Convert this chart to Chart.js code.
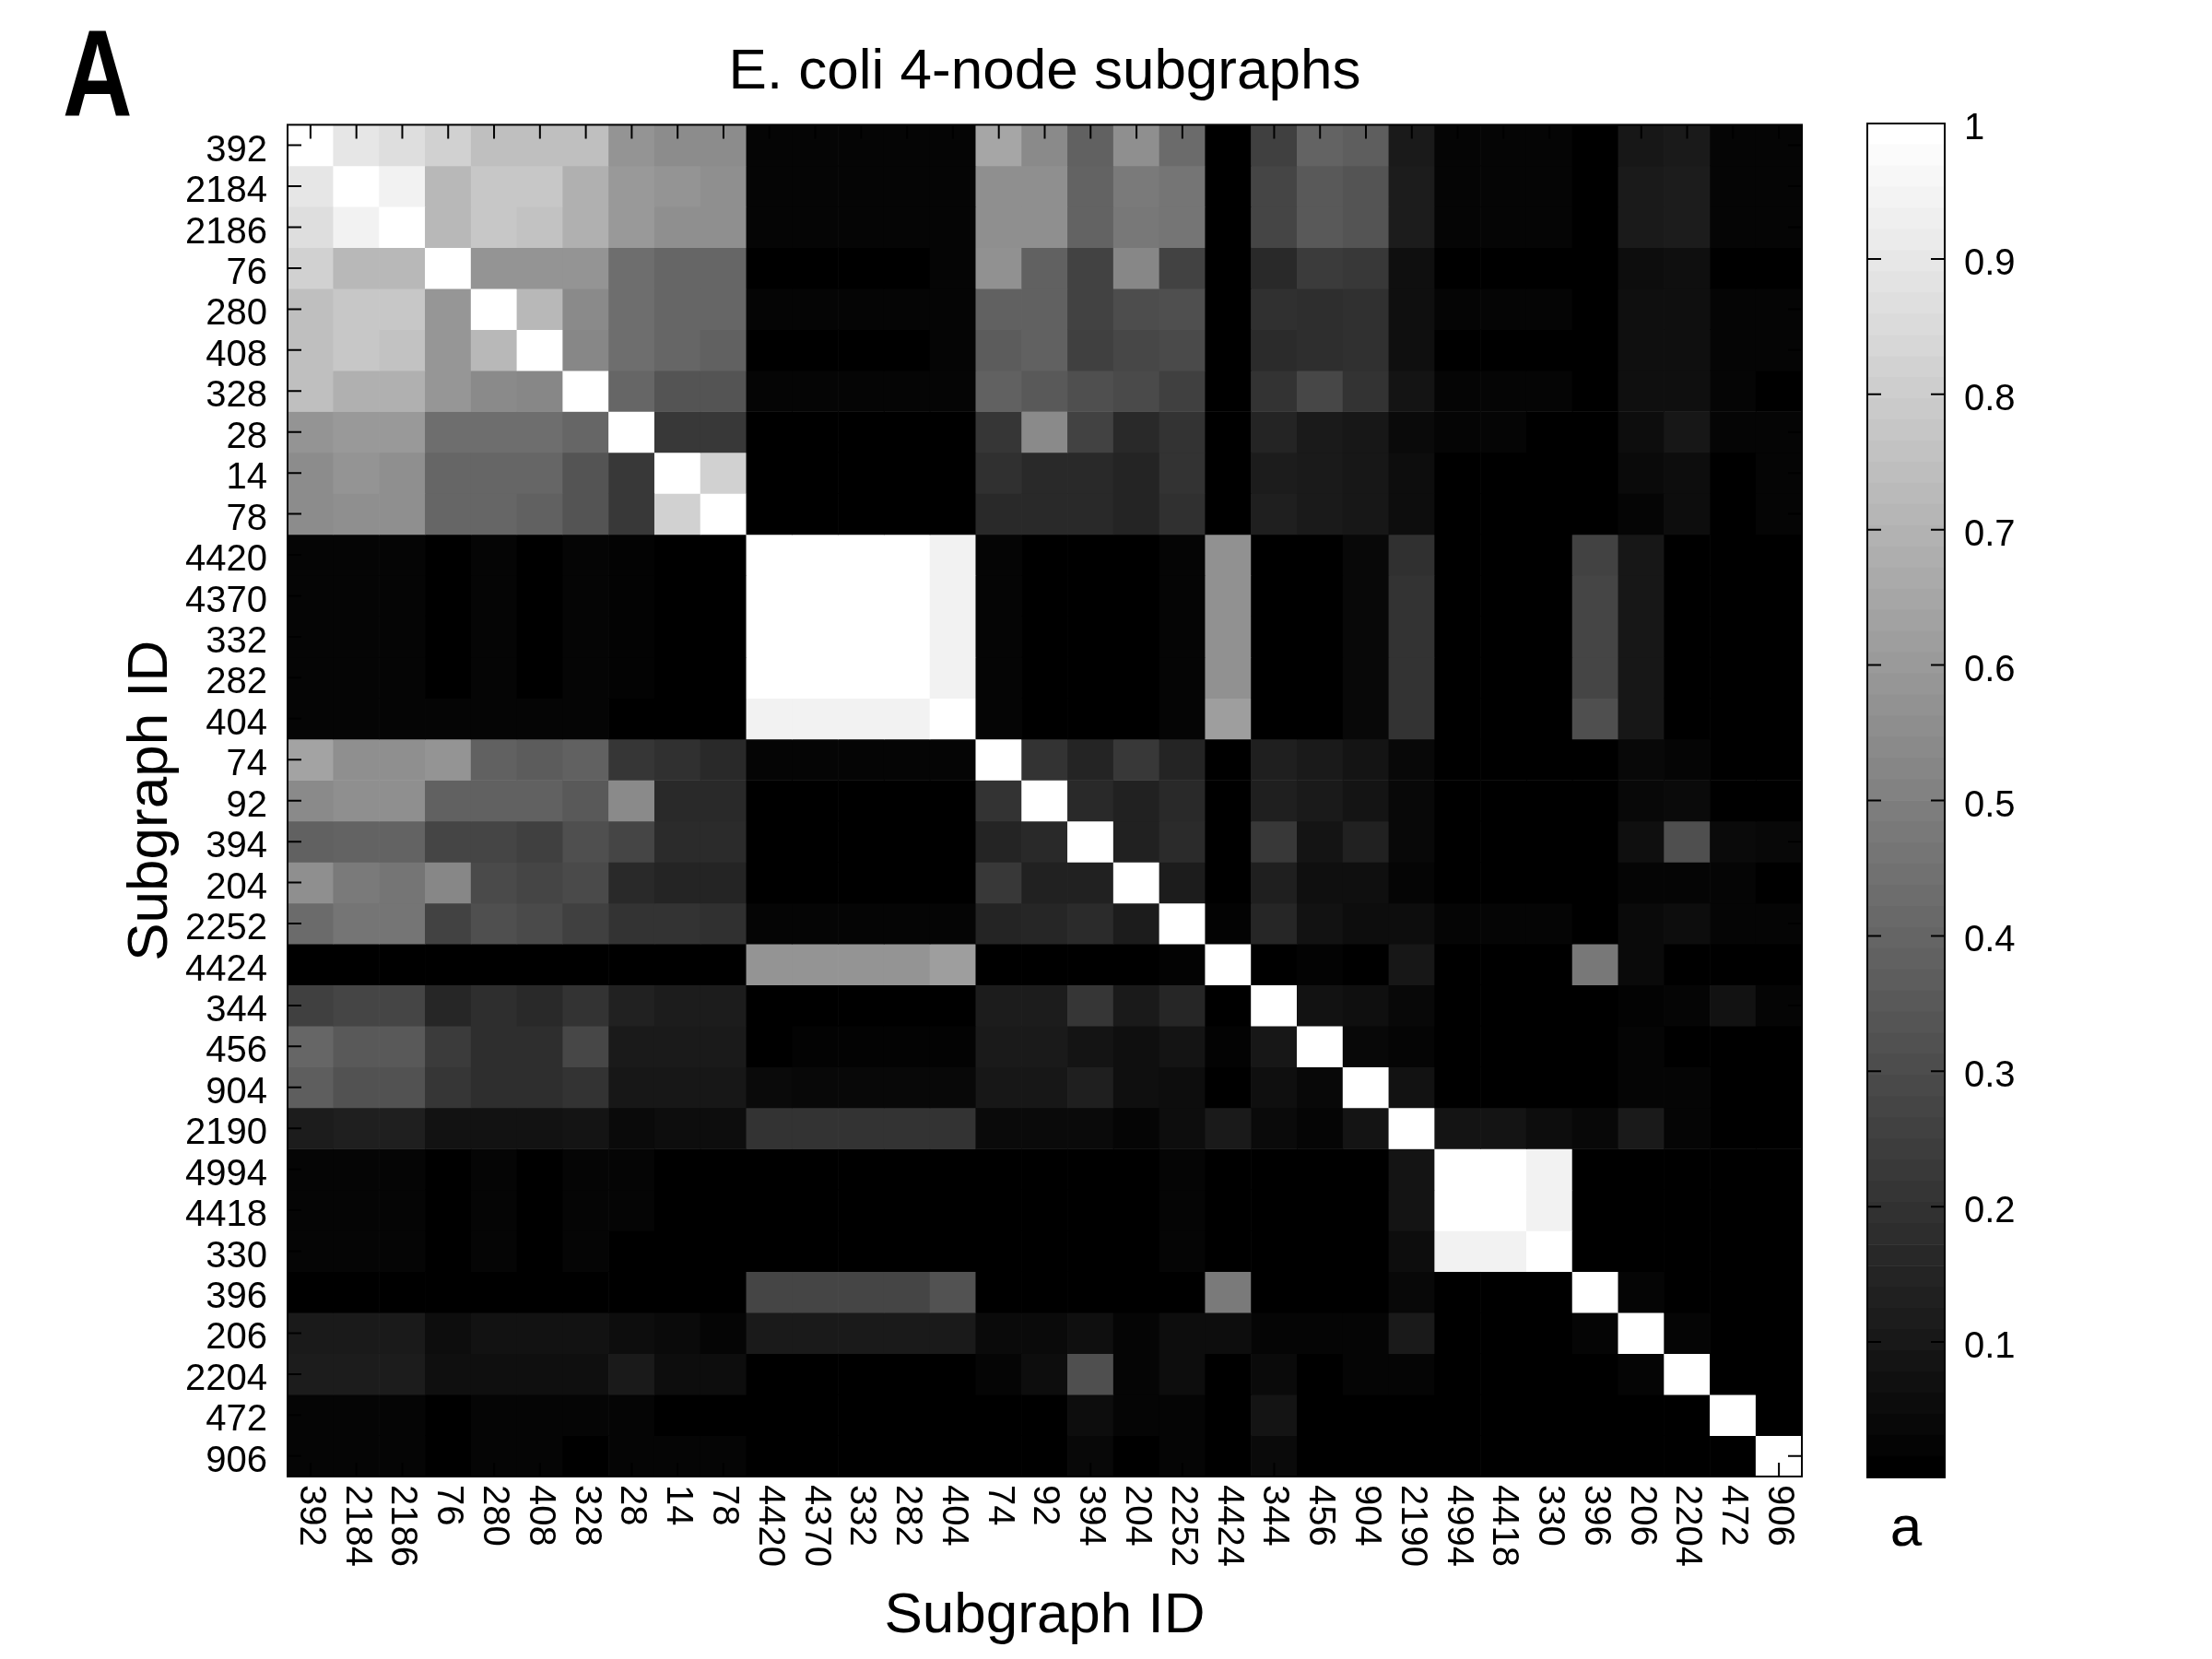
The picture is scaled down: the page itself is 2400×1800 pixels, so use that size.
<!DOCTYPE html>
<html>
<head>
<meta charset="utf-8">
<title>E. coli 4-node subgraphs</title>
<script src="https://cdn.jsdelivr.net/npm/chart.js@4.4.1/dist/chart.umd.min.js"></script>
<style>
  html, body { margin: 0; padding: 0; background: #fff; }
  #wrap { position: relative; width: 2400px; height: 1800px; }
  #main { position: absolute; left: 0; top: 0; }
  #bar { position: absolute; left: 1960px; top: 0; }
</style>
</head>
<body>
<div id="wrap">
  <canvas id="main" width="2400" height="1800"></canvas>
  <canvas id="bar" width="440" height="1800"></canvas>
</div>
<script>
const family = "'Liberation Sans', Arial, sans-serif";

// subgraph ids, same order on both axes
const subgraphIds = ['392', '2184', '2186', '76', '280', '408', '328', '28', '14', '78',
  '4420', '4370', '332', '282', '404', '74', '92', '394', '204', '2252',
  '4424', '344', '456', '904', '2190', '4994', '4418', '330', '396', '206',
  '2204', '472', '906'];

// one row per subgraph (0..1)
const r392  = [1.00,0.90,0.87,0.82,0.75,0.75,0.75,0.58,0.55,0.55, 0.02,0.02,0.02,0.02,0.02, 0.65,0.54,0.38,0.56,0.42, 0.00,0.25, 0.39,0.37,0.10, 0.02,0.02,0.02, 0.00,0.09,0.10,0.02,0.02];
const r2184 = [0.90,1.00,0.95,0.72,0.78,0.78,0.69,0.60,0.58,0.56, 0.02,0.02,0.02,0.02,0.02, 0.56,0.56,0.39,0.48,0.46, 0.00,0.27, 0.35,0.33,0.11, 0.02,0.02,0.02, 0.00,0.10,0.11,0.02,0.02];
const r2186 = [0.87,0.95,1.00,0.72,0.78,0.76,0.69,0.60,0.56,0.56, 0.02,0.02,0.02,0.02,0.02, 0.56,0.56,0.39,0.47,0.46, 0.00,0.27, 0.35,0.33,0.11, 0.02,0.02,0.02, 0.00,0.10,0.11,0.02,0.02];
const r76   = [0.82,0.72,0.72,1.00,0.58,0.58,0.58,0.43,0.40,0.40, 0.00,0.00,0.00,0.00,0.02, 0.57,0.38,0.26,0.53,0.26, 0.00,0.16, 0.23,0.22,0.06, 0.00,0.00,0.00, 0.00,0.05,0.06,0.00,0.00];
const r280  = [0.75,0.78,0.78,0.59,1.00,0.72,0.54,0.43,0.40,0.40, 0.02,0.02,0.02,0.02,0.02, 0.38,0.38,0.26,0.30,0.31, 0.00,0.19, 0.18,0.19,0.06, 0.02,0.02,0.02, 0.00,0.06,0.06,0.02,0.02];
const r408  = [0.75,0.78,0.76,0.59,0.72,1.00,0.53,0.43,0.40,0.38, 0.00,0.00,0.00,0.00,0.02, 0.36,0.38,0.25,0.28,0.29, 0.00,0.17, 0.18,0.19,0.06, 0.00,0.00,0.00, 0.00,0.06,0.06,0.02,0.02];
const r328  = [0.75,0.69,0.69,0.59,0.54,0.53,1.00,0.40,0.33,0.33, 0.02,0.02,0.02,0.02,0.02, 0.38,0.35,0.31,0.29,0.25, 0.00,0.20, 0.28,0.20,0.08, 0.02,0.02,0.02, 0.00,0.06,0.06,0.02,0.00];
const r28   = [0.58,0.60,0.60,0.43,0.43,0.43,0.40,1.00,0.22,0.22, 0.00,0.00,0.00,0.00,0.00, 0.21,0.54,0.26,0.16,0.20, 0.00,0.14, 0.10,0.09,0.04, 0.02,0.02,0.00, 0.00,0.05,0.09,0.02,0.02];
const r14   = [0.55,0.58,0.56,0.40,0.40,0.40,0.33,0.22,1.00,0.82, 0.00,0.00,0.00,0.00,0.00, 0.19,0.16,0.16,0.14,0.20, 0.00,0.11, 0.10,0.09,0.05, 0.00,0.00,0.00, 0.00,0.04,0.05,0.00,0.02];
const r78   = [0.55,0.56,0.56,0.40,0.40,0.38,0.33,0.22,0.82,1.00, 0.00,0.00,0.00,0.00,0.00, 0.16,0.16,0.16,0.14,0.19, 0.00,0.12, 0.10,0.09,0.05, 0.00,0.00,0.00, 0.00,0.02,0.05,0.00,0.02];
const r4420 = [0.02,0.02,0.02,0.00,0.02,0.00,0.02,0.01,0.00,0.00, 1.00,1.00,1.00,1.00,0.95, 0.02,0.00,0.00,0.00,0.02, 0.57,0.00, 0.00,0.03,0.19, 0.00,0.00,0.00, 0.26,0.09,0.00,0.00,0.00];
const r4370 = [0.02,0.02,0.02,0.00,0.02,0.00,0.02,0.01,0.00,0.00, 1.00,1.00,1.00,1.00,0.95, 0.02,0.00,0.00,0.00,0.02, 0.57,0.00, 0.00,0.03,0.20, 0.00,0.00,0.00, 0.27,0.09,0.00,0.00,0.00];
const r332  = [0.02,0.02,0.02,0.00,0.02,0.00,0.02,0.01,0.00,0.00, 1.00,1.00,1.00,1.00,0.95, 0.02,0.00,0.00,0.00,0.02, 0.57,0.00, 0.00,0.03,0.20, 0.00,0.00,0.00, 0.27,0.09,0.00,0.00,0.00];
const r282  = [0.02,0.02,0.02,0.00,0.02,0.00,0.02,0.01,0.00,0.00, 1.00,1.00,1.00,1.00,0.95, 0.02,0.00,0.00,0.00,0.02, 0.57,0.00, 0.00,0.03,0.20, 0.00,0.00,0.00, 0.27,0.09,0.00,0.00,0.00];
const r404  = [0.02,0.02,0.02,0.02,0.02,0.02,0.02,0.00,0.00,0.00, 0.95,0.95,0.95,0.95,1.00, 0.02,0.00,0.00,0.00,0.02, 0.62,0.00, 0.00,0.03,0.20, 0.00,0.00,0.00, 0.31,0.09,0.00,0.00,0.00];
const r74   = [0.64,0.56,0.56,0.58,0.38,0.36,0.38,0.21,0.19,0.16, 0.02,0.02,0.02,0.02,0.02, 1.00,0.20,0.14,0.22,0.14, 0.00,0.12, 0.10,0.08,0.03, 0.00,0.00,0.00, 0.00,0.03,0.02,0.00,0.00];
const r92   = [0.54,0.56,0.56,0.38,0.38,0.38,0.35,0.54,0.16,0.16, 0.00,0.00,0.00,0.00,0.00, 0.20,1.00,0.16,0.13,0.16, 0.00,0.12, 0.10,0.08,0.03, 0.00,0.00,0.00, 0.00,0.03,0.04,0.00,0.00];
const r394  = [0.38,0.39,0.39,0.27,0.27,0.25,0.31,0.27,0.17,0.17, 0.00,0.00,0.00,0.00,0.00, 0.14,0.16,1.00,0.13,0.17, 0.00,0.22, 0.08,0.13,0.03, 0.00,0.00,0.00, 0.00,0.06,0.31,0.04,0.03];
const r204  = [0.56,0.48,0.46,0.53,0.29,0.27,0.29,0.16,0.14,0.14, 0.00,0.00,0.00,0.00,0.00, 0.22,0.13,0.13,1.00,0.11, 0.00,0.12, 0.06,0.06,0.02, 0.00,0.00,0.00, 0.00,0.02,0.02,0.02,0.00];
const r2252 = [0.42,0.46,0.46,0.26,0.31,0.29,0.25,0.20,0.20,0.19, 0.02,0.02,0.02,0.02,0.02, 0.14,0.15,0.17,0.11,1.00, 0.01,0.15, 0.07,0.05,0.05, 0.02,0.02,0.02, 0.00,0.04,0.05,0.02,0.02];
const r4424 = [0.00,0.00,0.00,0.00,0.00,0.00,0.00,0.00,0.00,0.00, 0.58,0.58,0.58,0.58,0.62, 0.00,0.00,0.00,0.00,0.01, 1.00,0.00, 0.01,0.00,0.09, 0.00,0.00,0.00, 0.47,0.04,0.00,0.00,0.00];
const r344  = [0.25,0.27,0.27,0.15,0.18,0.16,0.20,0.13,0.11,0.11, 0.00,0.00,0.00,0.00,0.00, 0.11,0.11,0.21,0.10,0.15, 0.00,1.00, 0.07,0.06,0.03, 0.00,0.00,0.00, 0.00,0.01,0.02,0.07,0.02];
const r456  = [0.40,0.35,0.35,0.23,0.18,0.18,0.28,0.10,0.10,0.10, 0.00,0.01,0.01,0.01,0.01, 0.10,0.10,0.08,0.06,0.08, 0.01,0.09, 1.00,0.03,0.02, 0.00,0.00,0.00, 0.00,0.02,0.00,0.00,0.00];
const r904  = [0.37,0.32,0.32,0.21,0.18,0.18,0.20,0.09,0.09,0.09, 0.04,0.03,0.03,0.03,0.03, 0.09,0.09,0.12,0.06,0.05, 0.00,0.06, 0.03,1.00,0.07, 0.00,0.00,0.00, 0.00,0.02,0.02,0.00,0.00];
const r2190 = [0.11,0.12,0.12,0.07,0.07,0.07,0.08,0.04,0.05,0.05, 0.20,0.20,0.20,0.20,0.20, 0.04,0.04,0.04,0.02,0.05, 0.10,0.04, 0.02,0.08,1.00, 0.08,0.08,0.05, 0.03,0.10,0.02,0.00,0.00];
const r4994 = [0.02,0.02,0.02,0.00,0.02,0.00,0.02,0.02,0.00,0.00, 0.00,0.00,0.00,0.00,0.00, 0.00,0.00,0.00,0.00,0.02, 0.00,0.00, 0.00,0.00,0.08, 1.00,1.00,0.95, 0.00,0.00,0.00,0.00,0.00];
const r4418 = [0.02,0.02,0.02,0.00,0.02,0.00,0.02,0.02,0.00,0.00, 0.00,0.00,0.00,0.00,0.00, 0.00,0.00,0.00,0.00,0.02, 0.00,0.00, 0.00,0.00,0.08, 1.00,1.00,0.95, 0.00,0.00,0.00,0.00,0.00];
const r330  = [0.02,0.02,0.02,0.00,0.02,0.00,0.02,0.00,0.00,0.00, 0.00,0.00,0.00,0.00,0.00, 0.00,0.00,0.00,0.00,0.02, 0.00,0.00, 0.00,0.00,0.05, 0.95,0.95,1.00, 0.00,0.00,0.00,0.00,0.00];
const r396  = [0.00,0.00,0.00,0.00,0.00,0.00,0.00,0.00,0.00,0.00, 0.27,0.27,0.27,0.27,0.32, 0.00,0.00,0.00,0.00,0.00, 0.48,0.00, 0.00,0.00,0.03, 0.00,0.00,0.00, 1.00,0.02,0.00,0.00,0.00];
const r206  = [0.10,0.10,0.10,0.05,0.07,0.07,0.07,0.05,0.04,0.02, 0.10,0.10,0.10,0.10,0.10, 0.04,0.04,0.06,0.02,0.05, 0.05,0.02, 0.02,0.02,0.10, 0.00,0.00,0.00, 0.02,1.00,0.02,0.00,0.00];
const r2204 = [0.11,0.11,0.11,0.06,0.06,0.06,0.06,0.10,0.05,0.05, 0.00,0.00,0.00,0.00,0.00, 0.02,0.05,0.31,0.02,0.05, 0.00,0.04, 0.00,0.02,0.02, 0.00,0.00,0.00, 0.00,0.02,1.00,0.00,0.00];
const r472  = [0.02,0.02,0.02,0.00,0.02,0.02,0.02,0.02,0.00,0.00, 0.00,0.00,0.00,0.00,0.00, 0.00,0.00,0.05,0.02,0.02, 0.00,0.08, 0.00,0.00,0.00, 0.00,0.00,0.00, 0.00,0.00,0.00,1.00,0.00];
const r906  = [0.02,0.02,0.02,0.00,0.02,0.02,0.00,0.02,0.02,0.02, 0.00,0.00,0.00,0.00,0.00, 0.00,0.00,0.03,0.00,0.02, 0.00,0.04, 0.00,0.00,0.00, 0.00,0.00,0.00, 0.00,0.00,0.00,0.00,1.00];

const values = [r392, r2184, r2186, r76, r280, r408, r328, r28, r14, r78,
  r4420, r4370, r332, r282, r404, r74, r92, r394, r204, r2252,
  r4424, r344, r456, r904, r2190, r4994, r4418, r330, r396, r206,
  r2204, r472, r906];

// colorbar
const colorbarTicks = [0.1, 0.2, 0.3, 0.4, 0.5, 0.6, 0.7, 0.8, 0.9, 1];
const colorbarTickLabels = ['0.1', '0.2', '0.3', '0.4', '0.5', '0.6', '0.7', '0.8', '0.9', '1'];
const levels = 64;

function grayOf(v) {
  const g = Math.round(Math.max(0, Math.min(1, v)) * 255);
  return `rgb(${g},${g},${g})`;
}

Chart.defaults.font.family = family;
Chart.defaults.color = '#000';

// each row is one dataset of floating bars [r, r+1], one bar per column
const cellSets = values.map((row, r) => ({
  label: subgraphIds[r],
  data: row.map(() => [r, r + 1]),
  backgroundColor: row.map(grayOf),
  borderWidth: 0,
  barPercentage: 1,
  categoryPercentage: 1,
  grouped: false
}));

const frame = {
  id: 'frame',
  afterDatasetsDraw(chart) {
    const { ctx, chartArea: a, scales: { x, y } } = chart;
    ctx.save();
    ctx.strokeStyle = '#000';
    ctx.lineWidth = 2;
    ctx.beginPath();
    subgraphIds.forEach((_, i) => {
      const px = x.getPixelForValue(i);
      ctx.moveTo(px, a.top); ctx.lineTo(px, a.top + 15);
      ctx.moveTo(px, a.bottom); ctx.lineTo(px, a.bottom - 15);
      const py = y.getPixelForValue(i + 0.5);
      ctx.moveTo(a.left, py); ctx.lineTo(a.left + 15, py);
      ctx.moveTo(a.right, py); ctx.lineTo(a.right - 15, py);
    });
    ctx.stroke();
    ctx.strokeRect(a.left, a.top, a.width, a.height);

    // x tick labels, read top to bottom
    ctx.fillStyle = '#000';
    ctx.font = `40px ${family}`;
    ctx.textAlign = 'left';
    ctx.textBaseline = 'middle';
    subgraphIds.forEach((id, i) => {
      ctx.save();
      ctx.translate(x.getPixelForValue(i), a.bottom + 9);
      ctx.rotate(Math.PI / 2);
      ctx.fillText(id, 0, 0);
      ctx.restore();
    });

    // panel letter
    ctx.save();
    ctx.translate(68, 126);
    ctx.scale(0.78, 1);
    ctx.font = `bold 134px ${family}`;
    ctx.textBaseline = 'alphabetic';
    ctx.fillText('A', 0, 0);
    ctx.restore();
    ctx.restore();
  }
};

new Chart(document.getElementById('main'), {
  type: 'bar',
  data: { labels: subgraphIds, datasets: cellSets },
  options: {
    responsive: false,
    animation: false,
    devicePixelRatio: 1,
    layout: { padding: { left: 0, right: 445, top: 0, bottom: 0 } },
    plugins: {
      legend: { display: false },
      tooltip: { enabled: false },
      title: {
        display: true,
        text: 'E. coli 4-node subgraphs',
        color: '#000',
        fullSize: false,
        font: { size: 62, weight: 'normal' },
        padding: { top: 42, bottom: 19 }
      }
    },
    scales: {
      x: {
        type: 'category',
        offset: true,
        grid: { display: false },
        border: { display: false },
        ticks: { display: false },
        title: {
          display: true,
          text: 'Subgraph ID',
          color: '#000',
          font: { size: 62 },
          padding: { top: 0, bottom: 9 }
        },
        afterFit: s => { s.height = 198; }
      },
      y: {
        type: 'linear',
        min: 0,
        max: 33,
        reverse: true,
        grid: { display: false },
        border: { display: false },
        afterBuildTicks: s => { s.ticks = subgraphIds.map((_, i) => ({ value: i + 0.5 })); },
        ticks: {
          autoSkip: false,
          padding: 14,
          labelOffset: 6,
          color: '#000',
          font: { size: 40 },
          callback: v => subgraphIds[Math.floor(v)]
        },
        title: {
          display: true,
          text: 'Subgraph ID',
          color: '#000',
          font: { size: 62 },
          padding: { top: 127, bottom: 0 }
        },
        afterFit: s => { s.width = 312; }
      }
    }
  },
  plugins: [frame]
});

// colorbar: one floating bar per colormap level
const bandSets = [];
for (let k = 0; k < levels; k++) {
  bandSets.push({
    data: [[k / levels, (k + 1) / levels]],
    backgroundColor: grayOf(k / (levels - 1)),
    borderWidth: 0,
    barPercentage: 1,
    categoryPercentage: 1,
    grouped: false
  });
}

const barFrame = {
  id: 'barFrame',
  afterDatasetsDraw(chart) {
    const { ctx, chartArea: a, scales: { y } } = chart;
    ctx.save();
    ctx.strokeStyle = '#000';
    ctx.lineWidth = 2;
    ctx.beginPath();
    colorbarTicks.forEach(v => {
      const py = y.getPixelForValue(v);
      ctx.moveTo(a.left, py); ctx.lineTo(a.left + 15, py);
      ctx.moveTo(a.right, py); ctx.lineTo(a.right - 15, py);
    });
    ctx.stroke();
    ctx.strokeRect(a.left, a.top, a.width, a.height);
    ctx.restore();
  }
};

new Chart(document.getElementById('bar'), {
  type: 'bar',
  data: { labels: [''], datasets: bandSets },
  options: {
    responsive: false,
    animation: false,
    devicePixelRatio: 1,
    layout: { padding: { left: 66, right: 0, top: 134, bottom: 0 } },
    plugins: { legend: { display: false }, tooltip: { enabled: false } },
    scales: {
      x: {
        type: 'category',
        offset: true,
        grid: { display: false },
        border: { display: false },
        ticks: { display: false },
        title: {
          display: true,
          text: 'a',
          color: '#000',
          font: { size: 62 },
          padding: { top: 0, bottom: 103 }
        },
        afterFit: s => { s.height = 197; }
      },
      y: {
        type: 'linear',
        position: 'right',
        min: 0,
        max: 1,
        grid: { display: false },
        border: { display: false },
        afterBuildTicks: s => { s.ticks = colorbarTicks.map(v => ({ value: v })); },
        ticks: {
          autoSkip: false,
          padding: 13,
          labelOffset: 6,
          color: '#000',
          font: { size: 40 },
          callback: (v, i) => colorbarTickLabels[i]
        },
        afterFit: s => { s.width = 290; }
      }
    }
  },
  plugins: [barFrame]
});
</script>
</body>
</html>
